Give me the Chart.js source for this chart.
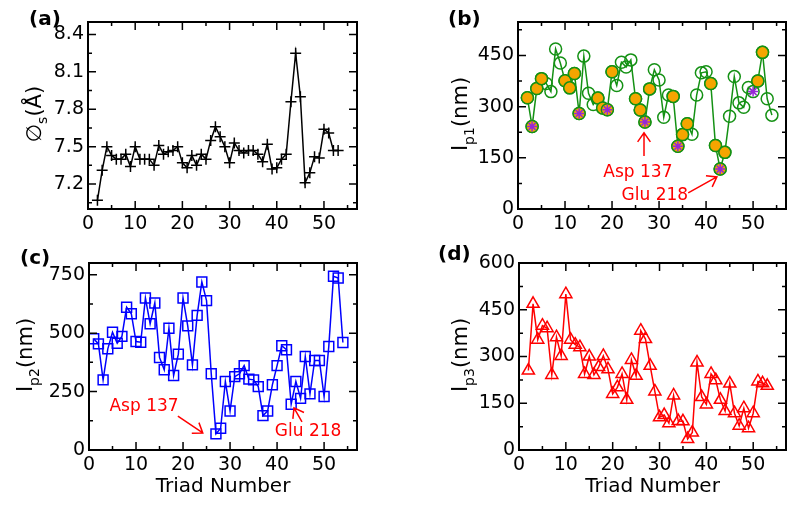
<!DOCTYPE html>
<html>
<head>
<meta charset="utf-8">
<script src="https://cdn.jsdelivr.net/npm/chart.js@4.4.1/dist/chart.umd.min.js"></script>
<style>
  body { margin: 0; background: #fff; }
  #wrap { position: relative; width: 800px; height: 507px; }
  canvas { position: absolute; left: 0; top: 0; }
</style>
</head>
<body>
<div id="wrap">
  <canvas id="ca" width="800" height="507"></canvas>
  <canvas id="cb" width="800" height="507"></canvas>
  <canvas id="cc" width="800" height="507"></canvas>
  <canvas id="cd" width="800" height="507"></canvas>
</div>
<script>
// (a) pore size
const triadA = [2,3,4,5,6,7,8,9,10,11,12,13,14,15,16,17,18,19,20,21,22,23,24,25,26,27,
  28,29,30,31,32,33,34,35,36,37,38,39,40,41,42,43,44,45,46,47,48,49,50,51,52,53];
const sizeA = [7.07,7.31,7.50,7.43,7.40,7.40,7.44,7.34,7.50,7.40,7.40,7.40,7.35,7.51,7.44,7.46,
  7.47,7.50,7.37,7.33,7.43,7.35,7.44,7.40,7.55,7.66,7.58,7.50,7.37,7.53,7.47,7.45,7.47,7.47,
  7.44,7.38,7.52,7.32,7.33,7.40,7.44,7.86,8.25,7.90,7.21,7.29,7.42,7.41,7.64,7.61,7.47,7.47];

// (b) Ip1
const triadB = [2,3,4,5,6,7,8,9,10,11,12,13,14,15,16,17,18,19,20,21,22,23,24,25,26,27,28,
  29,30,31,32,33,34,35,36,37,38,39,40,41,42,43,44,45,46,47,48,49,50,51,52,53,54];
const ip1 = [326,242,353,382,368,344,469,428,376,355,397,280,448,339,306,325,296,291,402,362,
  430,416,437,323,290,255,352,408,378,269,334,330,184,218,250,219,334,399,402,368,186,117,
  166,272,388,311,298,356,344,375,459,323,275];
const filledB = [2,3,4,5,10,11,12,13,17,18,19,20,25,26,27,28,33,34,35,36,41,42,43,44,51,52];
const starredB = [3,13,19,27,34,43,50];

// (c) Ip2
const triadC = [1,2,3,4,5,6,7,8,9,10,11,12,13,14,15,16,17,18,19,20,21,22,23,24,25,26,27,
  28,29,30,31,32,33,34,35,36,37,38,39,40,41,42,43,44,45,46,47,48,49,50,51,52,53,54];
const ip2 = [476,454,300,433,504,457,486,611,583,464,461,650,540,629,396,343,521,319,410,650,
  531,364,576,719,639,326,69,93,293,167,314,326,361,303,300,271,147,167,279,361,446,429,196,
  293,221,400,240,383,383,229,443,743,736,460];

// (d) Ip3
const triadD = [2,3,4,5,6,7,8,9,10,11,12,13,14,15,16,17,18,19,20,21,22,23,24,25,26,27,
  28,29,30,31,32,33,34,35,36,37,38,39,40,41,42,43,44,45,46,47,48,49,50,51,52,53];
const ip3 = [255,469,354,399,391,241,362,302,500,354,338,330,244,300,241,266,302,259,180,201,
  244,161,289,238,383,356,270,188,105,112,86,175,93,92,35,56,281,170,146,244,224,161,125,213,
  118,78,134,70,118,220,214,206];

// ticks
const xMajor = [0,10,20,30,40,50];
const xMinor = [5,15,25,35,45,55];
const yMajorA = [7.2,7.5,7.8,8.1,8.4];
const yMinorA = [7.05,7.35,7.65,7.95,8.25];
const yMajorB = [0,150,300,450];
const yMinorB = [75,225,375,525];
const yMajorC = [0,250,500,750];
const yMinorC = [125,375,625];
const yMajorD = [0,150,300,450,600];
const yMinorD = [75,225,375,525];

const FONT = 'DejaVu Sans';
Chart.defaults.font.family = FONT;
Chart.defaults.color = '#000';

const GREEN = 'rgb(20,145,20)';
const ORANGE = 'rgb(245,165,0)';
const VIOLET = 'rgb(150,40,215)';
const BLUE = 'rgb(0,0,255)';
const RED = 'rgb(255,0,0)';

const pts = (xs, ys) => xs.map((t, i) => ({ x: t, y: ys[i] }));
const pick = (xs, ys, keep) => pts(xs, ys).filter(p => keep.includes(p.x));

function arrow(ctx, x1, y1, x2, y2) {
  const ang = Math.atan2(y2 - y1, x2 - x1);
  const len = 11, spread = 0.62;
  ctx.beginPath();
  ctx.moveTo(x1, y1); ctx.lineTo(x2, y2);
  ctx.moveTo(x2 - len * Math.cos(ang - spread), y2 - len * Math.sin(ang - spread));
  ctx.lineTo(x2, y2);
  ctx.lineTo(x2 - len * Math.cos(ang + spread), y2 - len * Math.sin(ang + spread));
  ctx.stroke();
}

function deco(cfg) {
  return {
    id: 'deco',
    afterDraw(chart) {
      const { ctx, chartArea: a } = chart;
      const sx = chart.scales.x, sy = chart.scales.y;
      ctx.save();
      ctx.strokeStyle = '#000';
      ctx.lineWidth = 1.5;
      ctx.beginPath();
      const xt = (vals, len) => vals.forEach(v => {
        const p = sx.getPixelForValue(v);
        ctx.moveTo(p, a.bottom); ctx.lineTo(p, a.bottom - len);
        ctx.moveTo(p, a.top); ctx.lineTo(p, a.top + len);
      });
      const yt = (vals, len) => vals.forEach(v => {
        const p = sy.getPixelForValue(v);
        ctx.moveTo(a.left, p); ctx.lineTo(a.left + len, p);
        ctx.moveTo(a.right, p); ctx.lineTo(a.right - len, p);
      });
      xt(xMajor, 8); xt(xMinor, 4);
      yt(cfg.yMajor, 8); yt(cfg.yMinor, 4);
      ctx.stroke();
      ctx.lineWidth = 2;
      ctx.strokeRect(a.left, a.top, a.right - a.left, a.bottom - a.top);

      // panel tag
      ctx.fillStyle = '#000';
      ctx.font = 'bold 20px ' + FONT;
      ctx.textAlign = 'left';
      ctx.textBaseline = 'middle';
      ctx.fillText(cfg.tag, cfg.tagAt[0], cfg.tagAt[1]);

      // rotated y title with subscript
      ctx.save();
      ctx.translate(cfg.yTitleAt[0], cfg.yTitleAt[1]);
      ctx.rotate(-Math.PI / 2);
      ctx.textBaseline = 'alphabetic';
      let total = 0;
      cfg.yTitle.forEach(p => { ctx.font = p.size + 'px ' + FONT; total += ctx.measureText(p.t).width; });
      let cx = -total / 2;
      cfg.yTitle.forEach(p => {
        ctx.font = p.size + 'px ' + FONT;
        ctx.fillText(p.t, cx, p.dy || 0);
        cx += ctx.measureText(p.t).width;
      });
      ctx.restore();

      if (cfg.xTitle) {
        ctx.font = '20px ' + FONT;
        ctx.textAlign = 'center';
        ctx.fillText(cfg.xTitle, (a.left + a.right) / 2, 487);
      }

      (cfg.notes || []).forEach(n => {
        ctx.fillStyle = RED; ctx.strokeStyle = RED; ctx.lineWidth = 1.5;
        ctx.font = '17px ' + FONT;
        ctx.textAlign = 'center';
        ctx.textBaseline = 'middle';
        ctx.fillText(n.text, sx.getPixelForValue(n.at[0]), sy.getPixelForValue(n.at[1]));
        arrow(ctx, sx.getPixelForValue(n.from[0]), sy.getPixelForValue(n.from[1]),
          sx.getPixelForValue(n.to[0]), sy.getPixelForValue(n.to[1]));
      });
      ctx.restore();
    }
  };
}

function makeChart(id, box, datasets, yRange, yMajor, fmt, cfg) {
  cfg.yMajor = yMajor;
  return new Chart(document.getElementById(id), {
    type: 'line',
    data: { datasets },
    options: {
      responsive: false,
      animation: false,
      events: [],
      layout: { padding: { left: 0, top: box.t, right: 800 - box.r, bottom: 0 } },
      plugins: { legend: { display: false }, tooltip: { enabled: false } },
      scales: {
        x: {
          type: 'linear', min: 0, max: 57,
          grid: { display: false, drawTicks: false },
          border: { display: false },
          ticks: { font: { size: 19 }, color: '#000', padding: 4, maxRotation: 0, autoSkip: false },
          afterBuildTicks: s => { s.ticks = xMajor.map(v => ({ value: v })); },
          afterFit: s => { s.height = 507 - box.b; s.paddingLeft = 0; s.paddingRight = 0; }
        },
        y: {
          type: 'linear', min: yRange[0], max: yRange[1],
          grid: { display: false, drawTicks: false },
          border: { display: false },
          ticks: { font: { size: 19 }, color: '#000', padding: 4, autoSkip: false, callback: fmt },
          afterBuildTicks: s => { s.ticks = yMajor.map(v => ({ value: v })); },
          afterFit: s => { s.width = box.l; s.paddingTop = 0; s.paddingBottom = 0; }
        }
      }
    },
    plugins: [deco(cfg)]
  });
}

const lineStyle = (color, style, radius) => ({
  borderColor: color, borderWidth: 1.5, showLine: true, tension: 0,
  pointStyle: style, pointRadius: radius, pointBorderColor: color,
  pointBackgroundColor: 'rgba(0,0,0,0)', pointBorderWidth: 1.5
});

makeChart('ca', { l: 88, r: 357, t: 22, b: 209 },
  [Object.assign({ data: pts(triadA, sizeA) }, lineStyle('#000', 'cross', 5.5))],
  [7.0, 8.5], yMajorA, v => v.toFixed(1),
  { yMinor: yMinorA, tag: '(a)', tagAt: [29, 20],
    yTitle: [{ t: '\u2205', size: 21 }, { t: 's', size: 14, dy: 6 }, { t: '(Å)', size: 21 }],
    yTitleAt: [41, 114] });

makeChart('cb', { l: 518, r: 786, t: 22, b: 209 },
  [
    { data: pick(triadB, ip1, starredB), showLine: false, pointStyle: 'star', pointRadius: 5,
      pointBorderColor: VIOLET, pointBorderWidth: 1.5 },
    { data: pick(triadB, ip1, filledB), showLine: false, pointStyle: 'circle', pointRadius: 6,
      pointBorderColor: GREEN, pointBackgroundColor: ORANGE, pointBorderWidth: 1.5 },
    Object.assign({ data: pts(triadB, ip1) }, lineStyle(GREEN, 'circle', 6))
  ],
  [0, 548], yMajorB, v => String(v),
  { yMinor: yMinorB, tag: '(b)', tagAt: [448, 20],
    yTitle: [{ t: 'I', size: 21 }, { t: 'p1', size: 14, dy: 7 }, { t: '(nm)', size: 21 }],
    yTitleAt: [467, 114],
    notes: [
      { text: 'Asp 137', at: [25.5, 108], from: [26.8, 155], to: [26.8, 223] },
      { text: 'Glu 218', at: [29.1, 38], from: [36.2, 47], to: [42.3, 94] }
    ] });

makeChart('cc', { l: 89, r: 357, t: 263, b: 450 },
  [Object.assign({ data: pts(triadC, ip2) }, lineStyle(BLUE, 'rect', 7))],
  [0, 800], yMajorC, v => String(v),
  { yMinor: yMinorC, tag: '(c)', tagAt: [20, 259], xTitle: 'Triad Number',
    yTitle: [{ t: 'I', size: 21 }, { t: 'p2', size: 14, dy: 7 }, { t: '(nm)', size: 21 }],
    yTitleAt: [32, 355],
    notes: [
      { text: 'Asp 137', at: [11.7, 184], from: [18.9, 145], to: [24.2, 73] },
      { text: 'Glu 218', at: [46.6, 77], from: [45.3, 120], to: [43.6, 180] }
    ] });

makeChart('cd', { l: 519, r: 786, t: 263, b: 450 },
  [Object.assign({ data: pts(triadD, ip3) }, lineStyle(RED, 'triangle', 7))],
  [0, 600], yMajorD, v => String(v),
  { yMinor: yMinorD, tag: '(d)', tagAt: [438, 255], xTitle: 'Triad Number',
    yTitle: [{ t: 'I', size: 21 }, { t: 'p3', size: 14, dy: 7 }, { t: '(nm)', size: 21 }],
    yTitleAt: [467, 355] });
</script>
</body>
</html>
